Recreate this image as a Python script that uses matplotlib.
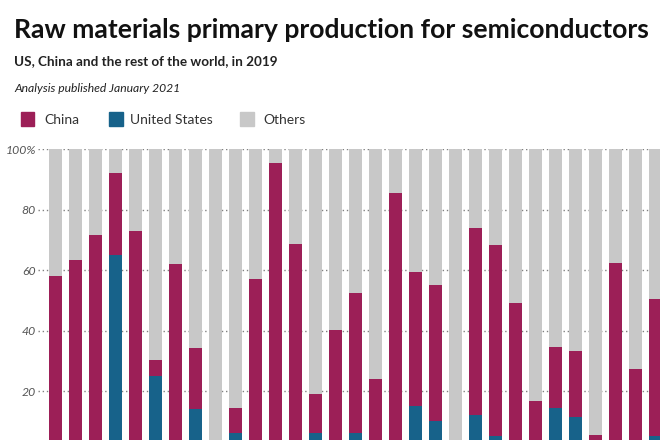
import numpy as np
import matplotlib
matplotlib.use('Agg')
import matplotlib.pyplot as plt
from matplotlib import rcParams

rcParams['font.family'] = ['Lato', 'DejaVu Sans']

# Colours
CHINA = '#9c1f57'
US = '#17628a'
OTHERS = '#c8c8c8'

# Share of world primary production, % (one bar per raw material, 31 visible)
us_share = [0, 0, 0, 65, 0, 25, 0, 14, 0, 6, 0, 0, 0, 6, 0,
            6, 0, 2, 15, 10, 0, 12, 5, 3, 0, 14.5, 11.3, 0, 0, 0, 5.2]
china_top = [58, 63.5, 71.6, 92, 73, 30.2, 62, 34.4, 0, 14.3, 57.1, 95.5, 68.6, 18.9, 40.2,
             52.6, 24.1, 85.7, 59.5, 55.2, 0, 74, 68.4, 49.1, 16.8, 34.7, 33.3, 5.4, 62.3, 27.2, 50.3]

us_share = np.array(us_share)
china_share = np.array(china_top) - us_share
others_share = 100 - us_share - china_share
x = np.arange(len(us_share))

fig = plt.figure(figsize=(6.6, 4.4), dpi=100)
ax = fig.add_axes([38/660, -11.5/440, 622/660, 302.2/440])

ax.bar(x, us_share, width=0.635, color=US, zorder=3)
ax.bar(x, china_share, bottom=us_share, width=0.635, color=CHINA, zorder=3)
ax.bar(x, others_share, bottom=us_share + china_share, width=0.635, color=OTHERS, zorder=3)

ax.set_xlim(-0.885, 30.215)
ax.set_ylim(0, 100)
ax.set_xticks([])
ax.set_yticks(
    ticks=[20, 40, 60, 80, 100]
    ,labels=['20', '40', '60', '80', '100%'])
ax.tick_params(axis='y', length=0, pad=1.5, labelsize=8.8, labelcolor='#555555')
for lbl in ax.get_yticklabels():
    lbl.set_fontstyle('italic')

ax.grid(axis='y', color='#808080', linestyle=(0, (1, 2)), linewidth=1, zorder=1)
ax.set_axisbelow(True)
for side in ['top', 'bottom', 'right', 'left']:
    ax.spines[side].set_visible(False)

# Titles
fig.text(14/660, 1 - 38/440, 'Raw materials primary production for semiconductors',
         fontsize=19.1, fontweight='bold', color='#111111', va='baseline')
fig.text(14/660, 1 - 65/440, 'US, China and the rest of the world, in 2019',
         fontsize=9.7, fontweight='bold', color='#222222', va='baseline')
fig.text(14/660, 1 - 91.5/440, 'Analysis published January 2021',
         fontsize=8.7, fontstyle='italic', color='#222222', va='baseline')

# Legend
legend_items = [('China', CHINA, 20.5, 44), ('United States', US, 109, 130), ('Others', OTHERS, 240, 263)]
for name, col, sx, tx in legend_items:
    fig.patches.append(plt.Rectangle((sx/660, 1 - 126/440), 13.5/660, 13.5/440,
                                     transform=fig.transFigure, color=col, figure=fig))
    fig.text(tx/660, 1 - 124.5/440, name, fontsize=10, color='#333333', va='baseline')

fig.savefig('out.png', dpi=100)
